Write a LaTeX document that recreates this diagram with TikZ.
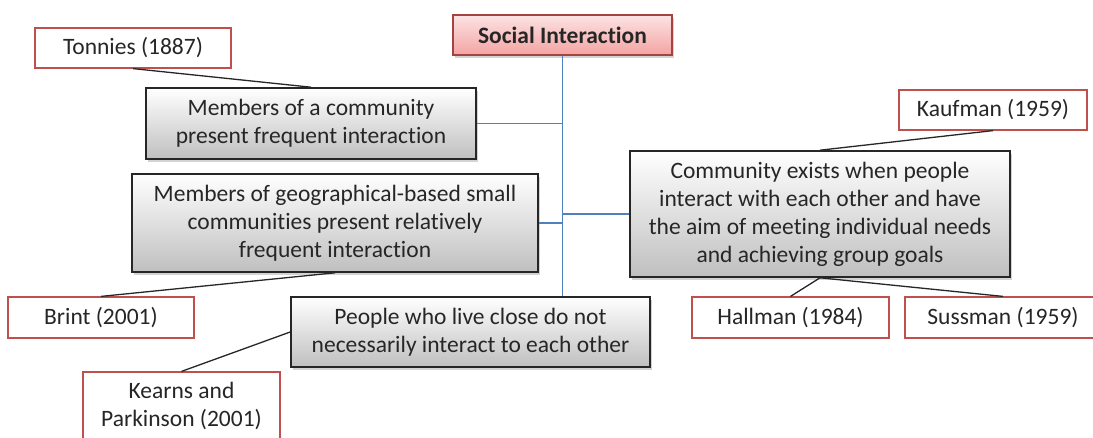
\documentclass[tikz,border=0pt]{standalone}
\usepackage{fontspec}
\setmainfont{Carlito}[Ligatures=NoCommon]
\usetikzlibrary{shadows}
\definecolor{cTexto}{HTML}{262626}
\definecolor{cBorde}{HTML}{C0504D}
\definecolor{cEje}{HTML}{4F81BD}
\definecolor{cRosa}{HTML}{F4A3A3}

\begin{document}
\begin{tikzpicture}[
    x=1pt, y=-1pt, font=\fontsize{23.5}{28}\selectfont, text=cTexto,
    head/.style={draw=cBorde!85!black, line width=1.3pt, align=center,
                 top color=cRosa!30, bottom color=cRosa, inner sep=0pt,
                 drop shadow={shadow xshift=2pt, shadow yshift=-3pt, opacity=0.35}},
    idea/.style={draw=cTexto, line width=1.6pt, align=center, inner sep=0pt,
                 top color=white, bottom color=black!25,
                 drop shadow={shadow xshift=2pt, shadow yshift=-3pt, opacity=0.35}},
    cite/.style={draw=cBorde, line width=1.2pt, fill=white, align=center,
                 inner sep=0pt},
    trunk/.style={draw=cEje, line width=1.4pt},
    lnk/.style={draw=cTexto, line width=1.3pt},
]
\useasboundingbox (0,0) rectangle (1093,437);

% ===================== Tema central =====================
\node[head, minimum width=219pt, minimum height=40pt] (soc) at (562.5,35)
      {\textbf{Social Interaction}};

% ===================== Ideas =====================
\node[idea, minimum width=330pt, minimum height=71pt] (mem) at (311,123.5)
      {Members of a community\\present frequent interaction};
\node[idea, minimum width=406pt, minimum height=98pt] (geo) at (335,223)
      {Members of geographical-based small\\communities present relatively\\frequent interaction};
\node[idea, minimum width=380pt, minimum height=126pt] (com) at (820,214)
      {Community exists when people\\interact with each other and have\\the aim of meeting individual needs\\and achieving group goals};
\node[idea, minimum width=359pt, minimum height=70pt] (ppl) at (470.5,332)
      {People who live close do not\\necessarily interact to each other};

% ===================== Autores =====================
\node[cite, minimum width=196pt, minimum height=40pt] (ton) at (133,48) {Tonnies (1887)};
\node[cite, minimum width=188pt, minimum height=40pt] (kau) at (993,110) {Kaufman (1959)};
\node[cite, minimum width=186pt, minimum height=41pt] (bri) at (101,317.5) {Brint (2001)};
\node[cite, minimum width=197pt, minimum height=41pt] (hal) at (790.5,317.5) {Hallman (1984)};
\node[cite, minimum width=196pt, minimum height=41pt] (sus) at (1003,317.5) {Sussman (1959)};
\node[cite, minimum width=197pt, minimum height=68pt] (kea) at (181.5,406)
      {Kearns and\\Parkinson (2001)};

% ===================== Eje azul =====================
\draw[trunk] (soc.south) -- (soc.south |- ppl.north);
\draw[trunk] (mem.east) -- (mem.east -| soc.south);
\draw[trunk] (geo.east) -- (geo.east -| soc.south);
\draw[trunk] (com.west) -- (com.west -| soc.south);

% ===================== Enlaces a autores =====================
\draw[lnk] (ton.south) -- (mem.north);
\draw[lnk] (kau.south) -- (com.north);
\draw[lnk] (geo.south) -- (bri.north);
\draw[lnk] (ppl.west) -- (kea.north);
\draw[lnk] (com.south) -- (hal.north);
\draw[lnk] (com.south) -- (sus.north);

\end{tikzpicture}
\end{document}
